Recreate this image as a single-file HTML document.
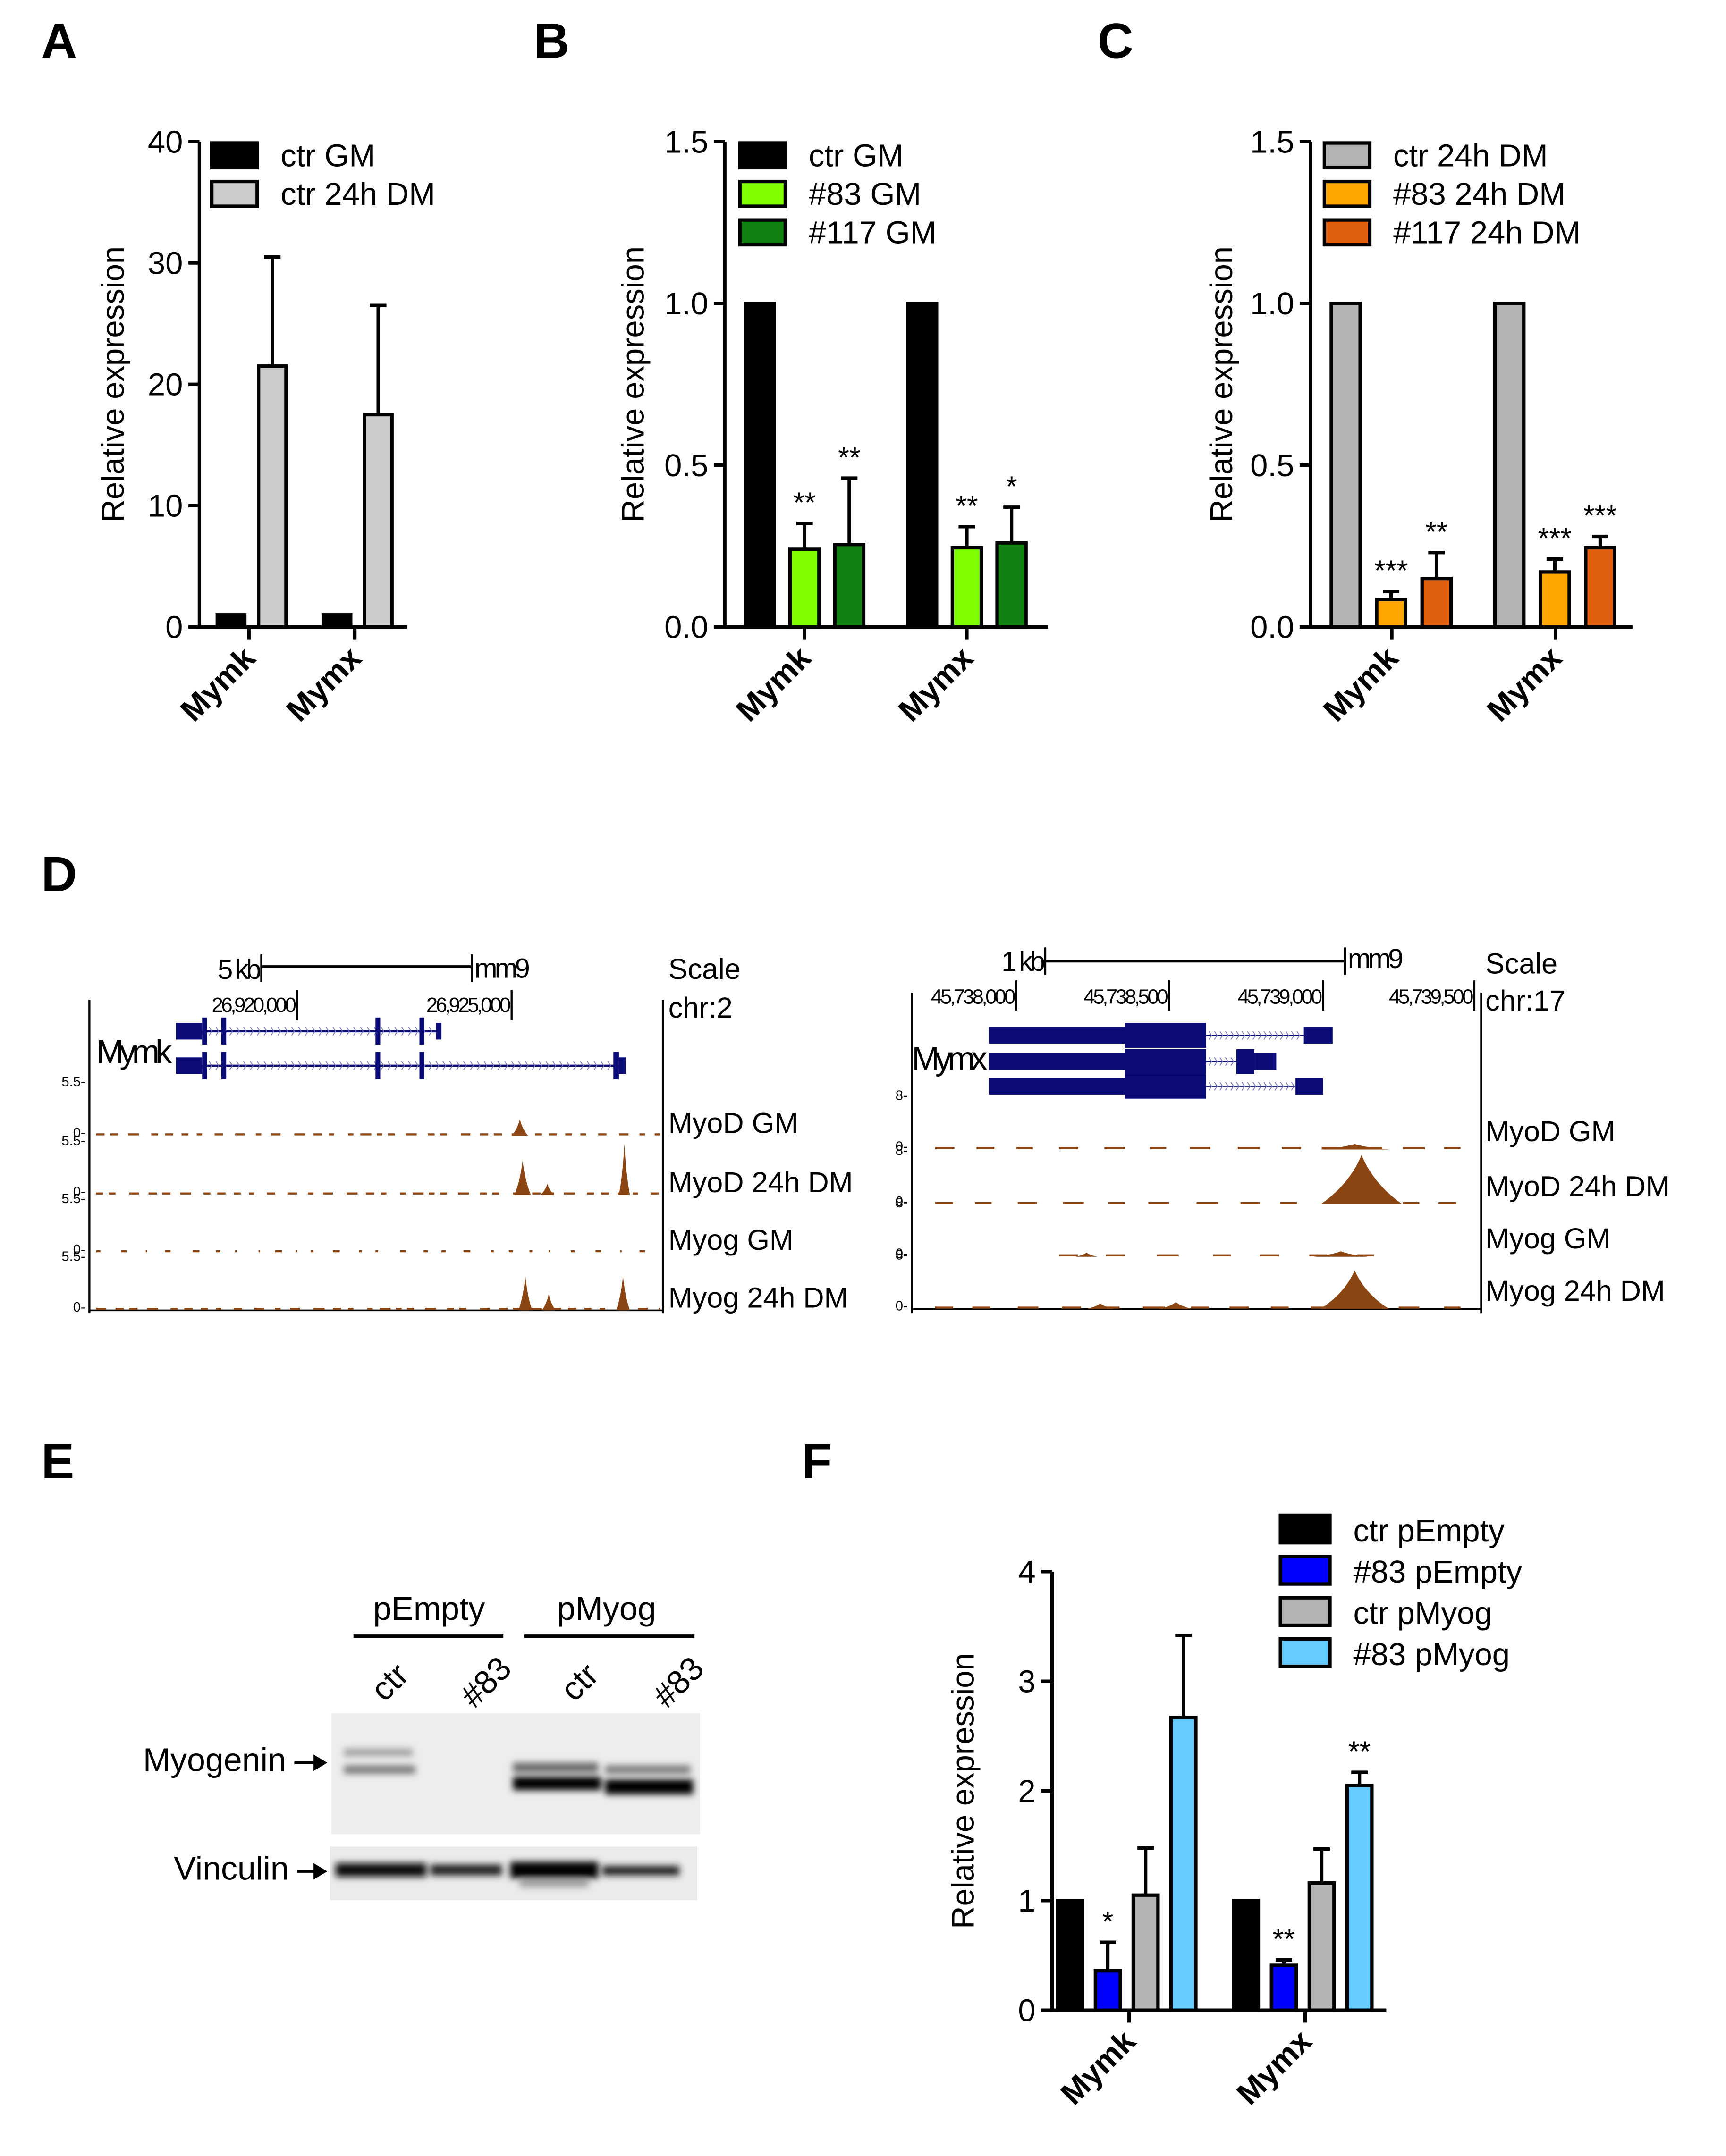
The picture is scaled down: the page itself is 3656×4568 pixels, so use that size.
<!DOCTYPE html>
<html><head><meta charset="utf-8"><style>
html,body{margin:0;padding:0;background:#fff;}
svg{display:block;font-family:"Liberation Sans",Arial,sans-serif;}
</style></head><body>
<svg id="fig" xmlns="http://www.w3.org/2000/svg" width="3656" height="4568" viewBox="0 0 1255 1568" preserveAspectRatio="none">
<defs><filter id="blur" x="-20%" y="-100%" width="140%" height="300%"><feGaussianBlur stdDeviation="2.5"/></filter></defs>
<g id="root"></g>
</svg>
<script>
var NS="http://www.w3.org/2000/svg";
var root=document.getElementById('root');
function el(tag,attrs,parent,txt){var e=document.createElementNS(NS,tag);for(var k in attrs)e.setAttribute(k,attrs[k]);if(txt!==undefined)e.textContent=txt;(parent||root).appendChild(e);return e;}

// ---------- data ----------
var categories=["Mymk","Mymx"];
var aSeries=["ctr GM","ctr 24h DM"];
var aValues=[[1,1],[21.5,17.5]];
var aErrors=[[0,0],[30.5,26.5]];
var aTicks=[0,10,20,30,40];
var bSeries=["ctr GM","#83 GM","#117 GM"];
var bValues=[[1,1],[0.24,0.245],[0.255,0.26]];
var bErrors=[[0,0],[0.32,0.31],[0.46,0.37]];
var bStars=[["",""],["**","**"],["**","*"]];
var bcTicks=["0.0","0.5","1.0","1.5"];
var cSeries=["ctr 24h DM","#83 24h DM","#117 24h DM"];
var cValues=[[1,1],[0.085,0.17],[0.15,0.245]];
var cErrors=[[0,0],[0.11,0.21],[0.23,0.28]];
var cStars=[["",""],["***","***"],["**","***"]];
var fSeries=["ctr pEmpty","#83 pEmpty","ctr pMyog","#83 pMyog"];
var fValues=[[1,1],[0.36,0.41],[1.05,1.16],[2.67,2.05]];
var fErrors=[[0,0],[0.62,0.46],[1.48,1.47],[3.42,2.17]];
var fStars=[["",""],["*","**"],["",""],["","**"]];
var fTicks=[0,1,2,3,4];

function barPanel(cfg){
  var g=el('g',{});
  
  
  var y=function(v){return cfg.y0-(v-cfg.min)/(cfg.max-cfg.min)*(cfg.y0-cfg.y1);};
  for(var s=0;s<cfg.values.length;s++){
    for(var c=0;c<categories.length;c++){
      var x=cfg.gx[c]+s*cfg.step;
      var v=cfg.values[s][c], e=cfg.errors[s][c];
      var cx=x+cfg.bw/2;
      if(e>v){
        var eb=el('line',{x1:cx,x2:cx,y1:y(v),y2:y(e),stroke:'#000','stroke-width':2.5},g);
        
        
        var ec=el('line',{x1:cx-6,x2:cx+6,y1:y(e),y2:y(e),stroke:'#000','stroke-width':2.5},g);
        
        
      }
      var r=el('rect',{x:x,y:y(v),width:cfg.bw,height:y(cfg.min)-y(v),fill:cfg.colors[s],stroke:'#000','stroke-width':2.5},g);
      
      
      if(cfg.stars && cfg.stars[s][c]){
        var st=el('text',{x:cx,y:y(e>v?e:v)-8,'text-anchor':'middle','font-size':21},g,cfg.stars[s][c]);
        
        
      }
    }
  }
  var ya=el('line',{x1:cfg.ax,x2:cfg.ax,y1:cfg.y1,y2:cfg.y0+1,stroke:'#000','stroke-width':2.5},g);
  
  var xa=el('line',{x1:cfg.ax-8,x2:cfg.axEnd,y1:cfg.y0,y2:cfg.y0,stroke:'#000','stroke-width':2.5},g);
  
  for(var i=0;i<cfg.ticks.length;i++){
    var tv=parseFloat(cfg.ticks[i]);var ty=y(tv);
    var tl=el('line',{x1:cfg.ax-8,x2:cfg.ax,y1:ty,y2:ty,stroke:'#000','stroke-width':2.5},g);
    
    var tt=el('text',{x:cfg.ax-12,y:ty+8,'text-anchor':'end','font-size':23},g,cfg.ticks[i]);
    
  }
  for(var c=0;c<categories.length;c++){
    var tx=cfg.gx[c]+cfg.catOff;
    var ct=el('line',{x1:tx,x2:tx,y1:cfg.y0,y2:cfg.y0+9,stroke:'#000','stroke-width':2.5},g);
    
    var cl=el('text',{x:tx+6,y:cfg.y0+24,'text-anchor':'end','font-size':23,'font-weight':'bold',transform:'rotate(-45 '+(tx+6)+' '+(cfg.y0+24)+')'},g,categories[c]);
    
  }
  var yt=el('text',{x:cfg.titleX,y:(cfg.y0+cfg.y1)/2,'text-anchor':'middle','font-size':23,transform:'rotate(-90 '+cfg.titleX+' '+((cfg.y0+cfg.y1)/2)+')'},g,'Relative expression');
  
  for(var s=0;s<cfg.series.length;s++){
    var ly=cfg.legY+s*cfg.legStep;
    var lr=el('rect',{x:cfg.legX,y:ly,width:cfg.legW,height:cfg.legH,fill:cfg.colors[s],stroke:'#000','stroke-width':2.5},g);
    
    var lt=el('text',{x:cfg.legX+cfg.legW+17,y:ly+cfg.legH-1,'font-size':23},g,cfg.series[s]);
    
  }
}
barPanel({name:'panel-a-chart',values:aValues,errors:aErrors,series:aSeries,colors:['#000','#cccccc'],ticks:aTicks,min:0,max:40,y0:456,y1:103,ax:145,axEnd:296,gx:[158,235],step:30,bw:20,catOff:23,titleX:90,legX:154,legY:104,legStep:28,legW:33,legH:18});
barPanel({name:'panel-b-chart',values:bValues,errors:bErrors,stars:bStars,series:bSeries,colors:['#000','#80ff00','#108010'],ticks:bcTicks,min:0,max:1.5,y0:456,y1:103,ax:527,axEnd:762,gx:[542,660],step:32.5,bw:21,catOff:43,titleX:468,legX:538,legY:104,legStep:28,legW:33,legH:18});
barPanel({name:'panel-c-chart',values:cValues,errors:cErrors,stars:cStars,series:cSeries,colors:['#b3b3b3','#ffa500','#e06010'],ticks:bcTicks,min:0,max:1.5,y0:456,y1:103,ax:953,axEnd:1187,gx:[968,1087],step:33,bw:21,catOff:44,titleX:896,legX:963,legY:104,legStep:28,legW:33,legH:18});
barPanel({name:'panel-f-chart',values:fValues,errors:fErrors,stars:fStars,series:fSeries,colors:['#000','#0000ff','#b3b3b3','#66ccff'],ticks:fTicks,min:0,max:4,y0:1462,y1:1143,ax:765,axEnd:1008,gx:[769,897],step:27.5,bw:18,catOff:52,titleX:708,legX:931,legY:1102,legStep:30,legW:36,legH:20});

var letters=[["A",30,42],["B",388,42],["C",798,42],["D",30,648],["E",30,1075],["F",583,1075]];
for(var i=0;i<letters.length;i++){
  var t=el('text',{x:letters[i][1],y:letters[i][2],'font-size':36,'font-weight':'bold'},root,letters[i][0]);
  
  
}

// ---------- panel D ----------
var brown='#8b4513', navy='#0c0c78';
var trackNames=["MyoD GM","MyoD 24h DM","Myog GM","Myog 24h DM"];
var leftPeaks=[[[378,12,6]],[[380,25,6],[398,8,5],[454,37,4]],[],[[382,25,5],[399,12,5],[453,25,5]]];
var rightPeaks=[[[985,4,25]],[[990,36,30]],[[790,3,8],[975,4,20]],[[985,28,25],[800,4,10],[855,5,12]]];
function track(x0,x1,base,peaks,dashes,name){
  var g=el('g',{});
  
  
  for(var i=0;i<dashes.length;i++){
    el('line',{x1:dashes[i][0],x2:dashes[i][1],y1:base-1,y2:base-1,stroke:brown,'stroke-width':1.5},g);
  }
  for(var i=0;i<peaks.length;i++){
    var p=peaks[i];
    el('path',{d:'M'+(p[0]-p[2])+','+base+' Q'+(p[0]-p[2]*0.3)+','+(base-p[1]*0.4)+' '+p[0]+','+(base-p[1])+' Q'+(p[0]+p[2]*0.3)+','+(base-p[1]*0.4)+' '+(p[0]+p[2])+','+base+'Z',fill:brown},g);
  }
}
function dashRow(x0,x1,seg,gap,seed){var a=[];var x=x0;var k=seed;while(x<x1){k=(k*37+11)%23;var l=seg+(k%5);a.push([x,Math.min(x+l,x1)]);x+=l+gap+(k%7);}return a;}
(function(){
  var g=el('g',{});
  el('line',{x1:190,x2:343,y1:703,y2:703,stroke:'#000','stroke-width':2},g);
  el('line',{x1:190,x2:190,y1:694,y2:714,stroke:'#000','stroke-width':1.5},g);
  el('line',{x1:343,x2:343,y1:694,y2:714,stroke:'#000','stroke-width':1.5},g);
  el('text',{x:188,y:712,'text-anchor':'end','font-size':20,'letter-spacing':-2},g,'5 kb');
  el('text',{x:345,y:711,'font-size':20,'letter-spacing':-2},g,'mm9');
  el('text',{x:486,y:712,'font-size':21},g,'Scale');
  el('text',{x:486,y:740,'font-size':21},g,'chr:2');
  el('line',{x1:216,x2:216,y1:720,y2:742,stroke:'#000','stroke-width':1.5},g);
  el('line',{x1:372,x2:372,y1:720,y2:742,stroke:'#000','stroke-width':1.5},g);
  el('text',{x:214,y:736,'text-anchor':'end','font-size':15,'letter-spacing':-1.5},g,'26,920,000');
  el('text',{x:370,y:736,'text-anchor':'end','font-size':15,'letter-spacing':-1.5},g,'26,925,000');
  el('line',{x1:65,x2:65,y1:727,y2:955,stroke:'#000','stroke-width':1.5},g);
  el('line',{x1:482,x2:482,y1:727,y2:955,stroke:'#000','stroke-width':1.5},g);
  el('line',{x1:65,x2:482,y1:953,y2:953,stroke:'#000','stroke-width':1.2},g);
  var gl=el('text',{x:70,y:773,'font-size':24,'letter-spacing':-3},g,'Mymk');
  
  var rows=[[750,320],[775,455]];
  for(var r=0;r<2;r++){
    var ry=rows[r][0],end=rows[r][1];
    el('line',{x1:146,x2:end,y1:ry,y2:ry,stroke:navy,'stroke-width':1.5},g);
    for(var x=152;x<end-6;x+=5){el('path',{d:'M'+x+','+(ry-3)+' l2,3 l-2,3',stroke:'#7777bb',fill:'none','stroke-width':0.6},g);}
    el('rect',{x:128,y:ry-6,width:19,height:12,fill:navy},g);
    var ex=[147,161,273,305];
    for(var i=0;i<ex.length;i++)el('rect',{x:ex[i],y:ry-10,width:3.5,height:20,fill:navy},g);
    if(r==0)el('rect',{x:317,y:ry-6,width:4,height:12,fill:navy},g);
    else{el('rect',{x:446,y:ry-10,width:4,height:20,fill:navy},g);el('rect',{x:450,y:ry-6,width:5,height:12,fill:navy},g);}
  }
  var bases=[826,869,911,953];
  for(var t=0;t<4;t++){
    var b=bases[t];
    el('text',{x:62,y:b-36,'text-anchor':'end','font-size':10},g,'5.5-');
    el('text',{x:62,y:b+1,'text-anchor':'end','font-size':10},g,'0-');
    track(70,480,b,leftPeaks[t],dashRow(70,480,t==2?1:4,t==2?10:4,t+3),'track-left-'+t);
    var tl=el('text',{x:486,y:b-2,'font-size':21},g,trackNames[t]);
    
  }
})();
(function(){
  var g=el('g',{});
  el('line',{x1:760,x2:978,y1:699,y2:699,stroke:'#000','stroke-width':2},g);
  el('line',{x1:760,x2:760,y1:689,y2:709,stroke:'#000','stroke-width':1.5},g);
  el('line',{x1:978,x2:978,y1:689,y2:709,stroke:'#000','stroke-width':1.5},g);
  el('text',{x:758,y:706,'text-anchor':'end','font-size':20,'letter-spacing':-2},g,'1 kb');
  el('text',{x:980,y:704,'font-size':20,'letter-spacing':-2},g,'mm9');
  el('text',{x:1080,y:708,'font-size':21},g,'Scale');
  el('text',{x:1080,y:735,'font-size':21},g,'chr:17');
  var rt=[[739,'45,738,000'],[850,'45,738,500'],[962,'45,739,000'],[1072,'45,739,500']];
  for(var i=0;i<rt.length;i++){
    el('line',{x1:rt[i][0],x2:rt[i][0],y1:713,y2:735,stroke:'#000','stroke-width':1.5},g);
    el('text',{x:rt[i][0]-2,y:730,'text-anchor':'end','font-size':15,'letter-spacing':-1.5},g,rt[i][1]);
  }
  el('line',{x1:663,x2:663,y1:722,y2:955,stroke:'#000','stroke-width':1.5},g);
  el('line',{x1:1077,x2:1077,y1:722,y2:955,stroke:'#000','stroke-width':1.5},g);
  el('line',{x1:663,x2:1077,y1:952,y2:952,stroke:'#000','stroke-width':1.2},g);
  var gl=el('text',{x:663,y:778,'font-size':24,'letter-spacing':-3},g,'Mymx');
  
  var rows=[[753,948,969,null],[772,899,928,912],[790,942,962,null]];
  for(var r=0;r<3;r++){
    var ry=rows[r][0];
    el('rect',{x:719,y:ry-6,width:100,height:12,fill:navy},g);
    el('rect',{x:818,y:ry-9,width:59,height:18,fill:navy},g);
    el('line',{x1:877,x2:rows[r][1],y1:ry,y2:ry,stroke:navy,'stroke-width':1},g);
    for(var x=879;x<rows[r][1]-2;x+=4){el('path',{d:'M'+x+','+(ry-3)+' l2,3 l-2,3',stroke:'#7777bb',fill:'none','stroke-width':0.6},g);}
    if(rows[r][3]){el('rect',{x:899,y:ry-9,width:13,height:18,fill:navy},g);el('rect',{x:912,y:ry-6,width:16,height:12,fill:navy},g);}
    else el('rect',{x:rows[r][1],y:ry-6,width:rows[r][2]-rows[r][1],height:12,fill:navy},g);
  }
  var bases=[836,876,914,952];
  for(var t=0;t<4;t++){
    var b=bases[t];
    el('text',{x:660,y:b-36,'text-anchor':'end','font-size':10},g,'8-');
    el('text',{x:660,y:b+1,'text-anchor':'end','font-size':10},g,'0-');
    track(670,1073,b,rightPeaks[t],dashRow(t==2?770:680,t==2?1020:1070,12,t==2?20:14,t+1),'track-right-'+t);
    var tl=el('text',{x:1080,y:b-6,'font-size':21},g,trackNames[t]);
    
  }
})();

// ---------- panel E ----------
(function(){
  var g=el('g',{});
  el('text',{x:312,y:1178,'text-anchor':'middle','font-size':24},g,'pEmpty');
  el('text',{x:441,y:1178,'text-anchor':'middle','font-size':24},g,'pMyog');
  el('line',{x1:257,x2:366,y1:1190,y2:1190,stroke:'#000','stroke-width':2.5},g);
  el('line',{x1:381,x2:505,y1:1190,y2:1190,stroke:'#000','stroke-width':2.5},g);
  var lanes=[[282,'ctr'],[352,'#83'],[420,'ctr'],[492,'#83']];
  for(var i=0;i<4;i++){
    var lt=el('text',{x:lanes[i][0],y:1232,'text-anchor':'middle','font-size':24,transform:'rotate(-45 '+lanes[i][0]+' 1222)'},g,lanes[i][1]);
    
  }
  el('rect',{x:241,y:1246,width:268,height:88,fill:'#ededed'},g);
  el('rect',{x:240,y:1343,width:267,height:39,fill:'#ebebeb'},g);
  var fb=el('g',{filter:'url(#blur)'},g);
  el('rect',{x:250,y:1272,width:50,height:5,fill:'#9a9a9a'},fb);
  el('rect',{x:250,y:1284,width:52,height:6,fill:'#777'},fb);
  el('rect',{x:373,y:1282,width:62,height:7,fill:'#666'},fb);
  el('rect',{x:373,y:1292,width:64,height:10,fill:'#000'},fb);
  el('rect',{x:440,y:1284,width:62,height:6,fill:'#777'},fb);
  el('rect',{x:440,y:1294,width:64,height:11,fill:'#000'},fb);
  el('rect',{x:244,y:1355,width:66,height:10,fill:'#111'},fb);
  el('rect',{x:313,y:1356,width:52,height:8,fill:'#222'},fb);
  el('rect',{x:371,y:1354,width:64,height:12,fill:'#000'},fb);
  el('rect',{x:378,y:1368,width:50,height:4,fill:'#888'},fb);
  el('rect',{x:438,y:1357,width:56,height:7,fill:'#222'},fb);
  var m=el('text',{x:208,y:1288,'text-anchor':'end','font-size':24},g,'Myogenin');
  
  el('line',{x1:214,x2:230,y1:1282,y2:1282,stroke:'#000','stroke-width':2},g);
  el('path',{d:'M228,1276 L238,1282 L228,1288Z',fill:'#000'},g);
  var v=el('text',{x:210,y:1367,'text-anchor':'end','font-size':24},g,'Vinculin');
  
  el('line',{x1:216,x2:230,y1:1361,y2:1361,stroke:'#000','stroke-width':2},g);
  el('path',{d:'M228,1355 L238,1361 L228,1367Z',fill:'#000'},g);
})();
</script>
</body></html>
